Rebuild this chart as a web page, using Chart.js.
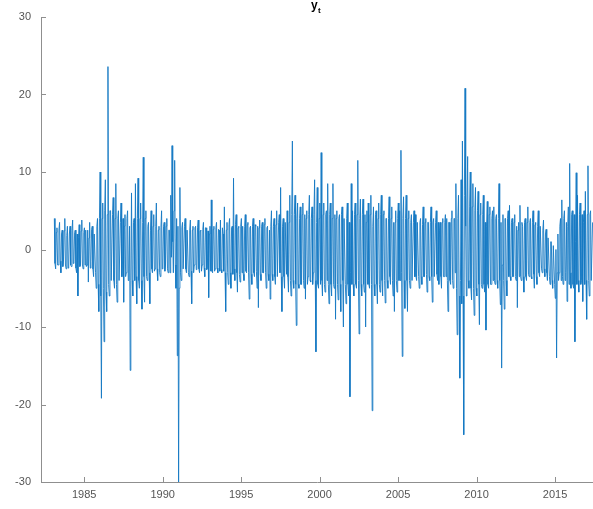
<!DOCTYPE html>
<html>
<head>
<meta charset="utf-8">
<script src="https://cdn.jsdelivr.net/npm/chart.js@4.4.1/dist/chart.umd.min.js"></script>
<style>
  html, body { margin: 0; padding: 0; background: #fff; }
  #wrap { width: 593px; height: 509px; position: relative; }
</style>
</head>
<body>
<div id="wrap"><canvas id="myChart"></canvas></div>
<script>
// two observations per month, first one at 1983.1
const startYear = 1983.1;
const perYear = 24;
const y1983 = [4.0,-1.8,-2.5,2.2,2.8,-2.0,-2.0,2.5,3.5,-1.5,-3.0,2.0,2.5,-2.2,-1.5,2.4,4.0,-2.0,-2.5,1.8,3.0,-2.4,-2.0,2.0];
const y1984 = [3.0,-2.0,-2.2,2.5,3.8,-1.8,-1.5,2.2,2.5,-2.4,-3.0,2.0,-6.0,1.5,3.2,-2.2,-2.0,2.4,3.8,-2.0,-2.5,2.2,2.8,-2.0];
const y1985 = [2.5,-2.2,-2.0,2.5,-4.2,1.5,3.5,-2.4,-1.5,2.6,3.0,-2.5,-3.5,2.0,2.0,-3.0,-5.0,3.0,4.0,-4.5,-8.0,4.0,10.0,-6.0];
const y1986 = [-19.2,4.0,6.0,-5.0,-11.9,5.0,9.0,-5.5,-8.0,4.5,23.6,-4.5,-6.0,5.0,5.0,-4.0,-4.0,4.5,6.7,-4.0,-5.0,4.0,8.5,-4.5];
const y1987 = [-6.8,4.0,5.0,-4.0,-4.0,3.5,6.0,-3.5,-3.5,4.0,-6.8,3.0,4.5,-3.5,-3.0,4.0,5.0,-4.0,-2.5,3.0,-15.6,-4.0,7.3,-4.0];
const y1988 = [-6.0,3.5,4.0,-4.0,8.5,-3.5,-7.0,4.0,9.2,-4.0,-5.0,4.0,6.0,-4.0,-7.7,3.5,11.9,-3.5,-6.8,4.0,5.0,-3.5,-4.0,3.0];
const y1989 = [3.5,-3.0,-7.0,2.5,5.0,-2.5,-3.0,3.0,4.5,-2.8,-2.5,3.0,6.0,-2.5,-4.0,2.5,3.0,-3.0,-3.5,2.8,5.0,-2.5,-2.0,3.0];
const y1990 = [3.5,-2.8,-2.0,3.0,4.0,-2.5,-3.0,2.5,2.5,-3.0,7.0,-1.0,13.4,1.0,-3.0,5.0,11.5,-2.0,-5.0,4.0,-13.7,3.0,-30.0,-5.0];
const y1991 = [8.0,-3.0,-4.0,2.8,3.5,-2.5,-2.5,3.0,4.0,-2.5,-3.0,2.5,2.5,-3.0,-3.5,2.5,3.8,-2.8,-7.0,2.5,3.0,-3.0,-2.0,2.8];
const y1992 = [3.0,-2.6,-2.5,2.8,3.8,-2.5,-3.0,2.4,2.5,-2.8,-2.0,2.6,3.5,-2.4,-3.5,2.8,2.8,-2.6,-2.5,2.4,-6.2,2.0,3.0,-2.8];
const y1993 = [6.4,-2.8,-3.0,2.6,3.0,-2.8,-2.5,2.8,3.5,-2.4,-3.0,2.6,2.5,-2.8,3.8,-2.6,-3.0,2.8,2.0,-2.8,5.5,-3.0,-8.0,2.5];
const y1994 = [3.5,-3.0,-4.5,3.2,4.0,-3.0,-5.0,2.8,3.0,-3.2,9.2,-2.5,-4.0,3.2,4.5,-3.0,-5.5,2.8,3.0,-3.2,-4.2,3.0,4.0,-3.0];
const y1995 = [3.0,-3.2,-4.0,3.0,4.5,-2.8,-3.0,3.2,3.5,-3.0,-6.4,2.8,3.0,-3.2,-4.5,3.0,4.0,-3.0,-3.5,3.2,3.0,-2.8,-5.0,3.0];
const y1996 = [-7.5,2.8,3.8,-3.2,-4.0,3.0,3.5,-3.0,-3.0,3.2,4.0,-3.0,-5.0,2.8,3.0,-3.2,-4.0,2.5,-6.4,3.0,5.0,-3.2,-4.0,3.0];
const y1997 = [4.0,-3.5,-4.5,3.2,5.0,-3.5,-3.5,3.5,4.5,-3.0,8.0,-3.5,-8.0,3.0,4.0,-3.5,-5.0,3.5,3.5,-3.2,5.0,-3.5,-5.5,3.5];
const y1998 = [7.0,-4.0,-6.0,4.5,14.0,-4.0,-5.0,4.5,7.0,-4.5,-9.8,4.0,6.0,-4.5,-5.0,4.0,5.5,-4.5,-4.5,4.5,6.0,-4.0,-5.0,4.5];
const y1999 = [-6.4,4.0,5.0,-4.5,-3.5,4.5,7.0,-4.0,-4.2,4.0,5.5,-4.5,-3.0,4.5,9.0,-4.0,-13.2,3.5,8.0,-4.5,-5.0,4.0,6.0,-4.5];
const y2000 = [12.5,-4.0,-6.0,4.5,6.0,-4.5,-5.5,4.5,5.0,-4.0,8.5,-4.5,-7.0,4.5,6.0,-4.5,-6.0,4.0,8.5,-4.5,-5.0,4.5,-9.0,4.0];
const y2001 = [5.0,-4.5,-6.5,4.0,4.5,-4.5,-8.0,4.5,5.5,-4.0,-10.0,4.0,4.0,-4.5,-7.0,4.0,6.0,-4.5,-6.0,3.5,-19.0,-3.0,8.5,-4.5];
const y2002 = [5.0,-4.5,-6.0,4.5,6.0,-4.5,-5.0,4.5,11.5,-4.0,-10.9,4.0,6.5,-4.5,-6.0,4.5,6.5,-4.5,-5.5,4.5,-10.0,3.5,5.0,-4.5];
const y2003 = [6.0,-4.5,-5.0,4.5,7.0,-4.5,-20.8,3.0,5.5,-4.5,-6.0,4.5,5.0,-4.5,-7.0,4.0,6.0,-4.5,-5.5,4.5,7.0,-4.0,-6.0,4.5];
const y2004 = [5.0,-4.0,-6.9,4.0,4.0,-4.0,-5.0,4.0,6.8,-3.5,-4.5,4.0,5.5,-4.0,-6.0,3.5,-8.0,3.5,5.0,-4.0,-5.5,4.0,6.0,-4.0];
const y2005 = [5.0,-4.0,12.8,-3.0,-13.8,4.0,6.8,-4.0,-7.6,4.0,7.0,-4.0,-8.0,4.0,5.0,-4.0,-5.0,3.5,4.5,-4.0,-4.0,3.5,5.0,-3.5];
const y2006 = [4.5,-3.5,-4.0,3.5,3.5,-3.5,-5.0,3.5,4.0,-3.5,-4.5,3.2,5.5,-3.5,-3.5,3.5,4.0,-3.2,-5.5,3.5,3.5,-3.5,-4.0,3.5];
const y2007 = [5.5,-3.5,-6.8,3.5,4.0,-3.5,-3.5,3.5,5.0,-3.2,-4.0,3.5,-4.5,2.5,3.5,-3.5,-5.0,3.5,4.0,-3.5,-3.5,3.5,4.5,-3.5];
const y2008 = [4.0,-4.0,-8.0,3.5,3.5,-4.0,-4.5,4.0,5.0,-4.0,-5.0,4.0,4.0,-3.0,8.5,-5.0,-11.0,4.0,7.0,-6.0,-16.6,-4.0,9.0,-7.0];
const y2009 = [14.0,-6.0,-23.9,7.0,20.8,3.0,-6.0,6.0,12.0,-4.0,-5.0,5.5,10.0,-5.0,-6.5,5.5,8.5,-5.0,-8.5,5.0,8.0,-5.0,-6.0,5.0];
const y2010 = [7.5,-4.5,-9.7,4.5,6.0,-4.5,-5.0,4.5,7.0,-4.5,-5.5,3.5,-10.4,3.0,6.2,-4.5,-5.0,4.5,5.5,-4.5,-4.5,4.0,5.0,-4.0];
const y2011 = [5.5,-4.0,-4.5,4.0,4.5,-4.0,-5.0,4.0,8.5,-4.0,-7.1,3.5,-15.3,-2.0,4.5,-4.0,-7.7,4.0,4.0,-4.0,-6.0,4.0,5.0,-3.5];
const y2012 = [5.7,-3.5,-4.0,3.5,4.0,-3.5,-3.5,3.5,4.5,-3.5,-4.0,3.0,-7.5,2.5,3.5,-3.5,5.7,-3.5,-4.0,3.5,3.0,-3.5,-5.5,3.5];
const y2013 = [4.0,-3.5,-4.0,3.5,5.5,-3.2,-3.5,3.5,4.0,-3.5,-3.8,3.5,5.0,-3.2,-5.0,3.2,3.5,-3.5,-4.5,3.0,5.0,-3.0,-3.5,3.0];
const y2014 = [3.0,-2.5,-3.0,2.5,3.8,-2.5,-3.5,2.0,2.6,-3.0,-4.0,1.5,1.5,-3.5,-4.5,1.0,1.0,-4.0,-5.0,0.5,0.5,-4.5,-6.3,0.0];
const y2015 = [-14.0,-3.0,2.0,-4.0,-3.0,3.0,4.0,-4.0,6.4,-3.5,-4.5,4.0,5.0,-4.0,-3.0,3.5,-6.7,3.0,5.5,-4.5,11.1,-3.0,-5.0,4.5];
const y2016 = [5.0,-4.5,-5.0,4.5,-11.9,1.0,9.9,-4.5,7.0,-4.0,-5.5,4.5,6.0,-4.5,-4.0,4.5,-6.7,3.5,5.0,-4.5,7.5,-4.0,-9.0,4.5];
const y2017 = [10.8,-4.0,-6.0,4.5,5.0,-4.0,-4.0,3.5];

const xTicks = [1985, 1990, 1995, 2000, 2005, 2010, 2015];
const yTicks = [-30, -20, -10, 0, 10, 20, 30];

const series = [].concat(y1983, y1984, y1985, y1986, y1987, y1988, y1989, y1990,
  y1991, y1992, y1993, y1994, y1995, y1996, y1997, y1998, y1999, y2000,
  y2001, y2002, y2003, y2004, y2005, y2006, y2007, y2008, y2009, y2010,
  y2011, y2012, y2013, y2014, y2015, y2016, y2017);

const points = series.map((v, i) => ({ x: startYear + i / perYear, y: v }));

const axisGray = '#8f8f8f';
const fontFam = "'Liberation Sans', Arial, sans-serif";

// MATLAB style: ticks pointing inward + title y_t
const extras = {
  id: 'extras',
  afterDraw(chart) {
    const c = chart.ctx;
    const xs = chart.scales.x, ys = chart.scales.y;
    const a = chart.chartArea;
    c.save();
    c.strokeStyle = axisGray;
    c.lineWidth = 1;
    c.beginPath();
    yTicks.forEach(t => {
      const py = Math.round(ys.getPixelForValue(t)) + 0.5;
      c.moveTo(a.left, py);
      c.lineTo(a.left + 5, py);
    });
    xTicks.forEach(t => {
      const px = Math.round(xs.getPixelForValue(t)) + 0.5;
      c.moveTo(px, a.bottom);
      c.lineTo(px, a.bottom - 5);
    });
    c.stroke();
    // title
    c.fillStyle = '#000';
    c.textBaseline = 'alphabetic';
    c.font = 'bold 12px ' + fontFam;
    c.fillText('y', 311, 9);
    c.font = 'bold 8px ' + fontFam;
    c.fillText('t', 318, 13);
    c.restore();
  }
};

const ctx = document.getElementById('myChart').getContext('2d');
const myChart = new Chart(ctx, {
  type: 'line',
  data: {
    datasets: [{
      label: 'y_t',
      data: points,
      borderColor: 'rgb(20, 120, 195)',
      borderWidth: 0.9,
      pointRadius: 0,
      tension: 0,
      fill: false
    }]
  },
  options: {
    responsive: true,
    maintainAspectRatio: false,
    animation: false,
    layout: { padding: { top: 17, right: 0, bottom: 0, left: 0 } },
    plugins: {
      legend: { display: false },
      title: { display: false },
      tooltip: { enabled: false }
    },
    scales: {
      x: {
        type: 'linear',
        min: 1982.25,
        max: 2017.42,
        afterBuildTicks: s => { s.ticks = xTicks.map(v => ({ value: v })); },
        afterFit: s => { s.height = 27; },
        grid: { display: false, drawTicks: false },
        border: { display: true, color: axisGray, width: 1 },
        ticks: {
          padding: 6,
          color: '#555',
          font: { family: fontFam, size: 11 },
          maxRotation: 0,
          callback: v => String(v)
        }
      },
      y: {
        min: -30,
        max: 30,
        afterBuildTicks: s => { s.ticks = yTicks.map(v => ({ value: v })); },
        afterFit: s => { s.width = 41; },
        grid: { display: false, drawTicks: false },
        border: { display: true, color: axisGray, width: 1 },
        ticks: {
          padding: 10,
          color: '#555',
          font: { family: fontFam, size: 11 }
        }
      }
    }
  },
  plugins: [extras]
});
</script>
</body>
</html>
